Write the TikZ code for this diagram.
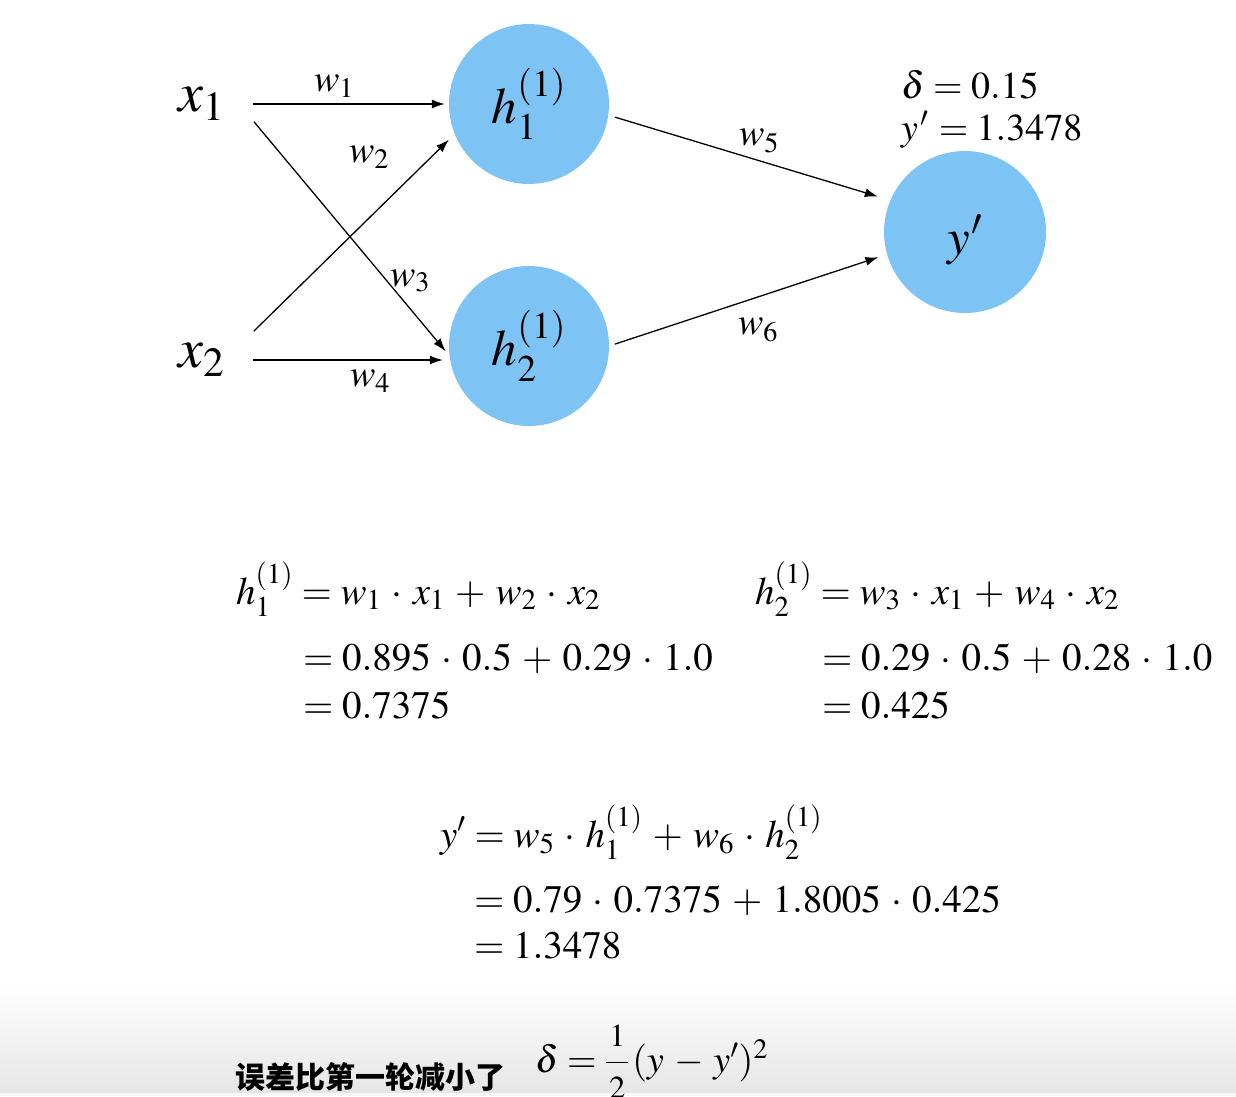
\documentclass[tikz,border=0pt]{standalone}
\usepackage{mathptmx}
\usepackage{fontspec}
\setmainfont{Liberation Serif}
\newfontfamily\cjk{Noto Sans CJK SC}
\usetikzlibrary{arrows.meta}
\definecolor{nodeblue}{RGB}{125,196,245}
\newcommand{\lowered}[2]{\raisebox{-#1}[\height][\depth]{#2}}
\begin{document}
\begin{tikzpicture}[x=1pt,y=-1pt,
  neuron/.style={circle, fill=nodeblue, minimum size=160pt, inner sep=0pt,
    font=\fontsize{51}{55}\selectfont},
  inlab/.style={rectangle, inner sep=0pt, minimum width=106pt,
    font=\fontsize{56}{60}\selectfont},
  wlab/.style={inner sep=0pt, font=\fontsize{38}{42}\selectfont},
  eqn/.style={inner sep=0pt, anchor=base west, font=\fontsize{39}{44}\selectfont},
  conn/.style={-{Latex[length=13pt,width=9pt]}, line width=1.3pt, black}]
\medmuskip=4.7mu\relax
\clip (0,0) rectangle (1236,1096);
\fill[white] (0,0) rectangle (1236,1096);
\shade[top color=white, bottom color=gray!20] (0,985) rectangle (1236,1093);
\fill[gray!6] (0,1093) rectangle (1236,1096);

% input labels
\node[inlab, minimum height=38pt] (x1) at (202,104) {$x_1$};
\node[inlab, minimum height=60pt] (x2) at (202,360) {$x_2$};

% neurons
\node[neuron] (h1) at (529,104) {$h_1^{(1)}$};
\node[neuron] (h2) at (529,346) {$h_2^{(1)}$};
\node[neuron, minimum size=162pt] (y) at (965,232) {\lowered{8pt}{$y^{\kern1pt\prime}$}};

% connectors
\draw[conn, shorten <=-2pt, shorten >=4pt] (x1.east) -- (x1.east -| h1.west);
\draw[conn, shorten <=-2pt, shorten >=6pt] (x1.south east) -- (h2.187);
\draw[conn, shorten <=-2pt, shorten >=8pt] (x2.north east) -- (h1.202);
\draw[conn, shorten <=-2pt, shorten >=6pt] (x2.east) -- (x2.east -| h2.west);
\draw[conn, shorten <=7pt, shorten >=13pt] (h1.-8.6) -- (y.157);
\draw[conn, shorten <=6pt, shorten >=9pt] (h2.east) -- (y.196);

% weight labels
\node[wlab] (w1) at (334,86) {$w_1$};
\node[wlab] (w2) at (369,157) {$w_2$};
\node[wlab] (w3) at (410,281) {$w_3$};
\node[wlab] (w4) at (370,381) {$w_4$};
\node[wlab] (w5) at (759,141) {$w_5$};
\node[wlab] (w6) at (758,330) {$w_6$};

% values near output
\node[eqn, font=\fontsize{38}{42}\selectfont] (dval) at (901,98) {$\delta = 0.15$};
\node[eqn, font=\fontsize{38}{42}\selectfont] (yval) at (901,140) {$y^{\kern2pt\prime}\kern2pt = 1.3478$};

% equations h1
\node[eqn] (ha1) at (236,604) {$h_1^{(1)} = w_1\cdot x_1 + w_2\cdot x_2$};
\node[eqn] (ha2) at (303,670) {$= 0.895\cdot 0.5 + 0.29\cdot 1.0$};
\node[eqn] (ha3) at (303,718) {$= 0.7375$};
% equations h2
\node[eqn] (hb1) at (755,604) {$h_2^{(1)} = w_3\cdot x_1 + w_4\cdot x_2$};
\node[eqn] (hb2) at (822,670) {$= 0.29\cdot 0.5 + 0.28\cdot 1.0$};
\node[eqn] (hb3) at (822,718) {$= 0.425$};
% equations y'
\node[eqn] (ya1) at (440,847) {$y' = w_5\cdot h_1^{(1)} + w_6\cdot h_2^{(1)}$};
\node[eqn] (ya2) at (474,912) {$= 0.79\cdot 0.7375 + 1.8005\cdot 0.425$};
\node[eqn] (ya3) at (474,958) {$= 1.3478$};

% bottom caption
\node[eqn, font=\cjk\bfseries\fontsize{30}{34}\selectfont] (cap) at (235,1088) {误差比第一轮减小了};
\node[eqn, font=\fontsize{38}{42}\selectfont] (loss) at (535,1072)
  {$\delta = {\displaystyle\frac{\kern3pt\mbox{\fontsize{32}{34}\selectfont$1$}\kern3pt}{\mbox{\fontsize{32}{34}\selectfont$2$}}}\kern3pt(y - y')^2$};
\end{tikzpicture}
\end{document}
